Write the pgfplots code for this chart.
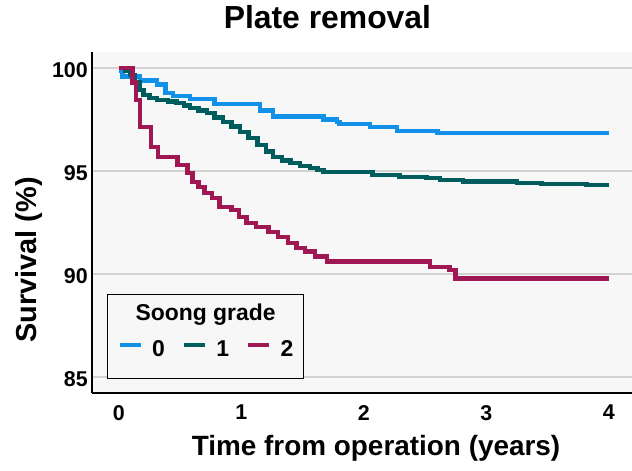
\documentclass[border=0pt]{standalone}
\usepackage{fontspec}
\setmainfont{Liberation Sans}
\usepackage{pgfplots}
\pgfplotsset{compat=1.18}
\definecolor{c0}{HTML}{1192E8}
\definecolor{c1}{HTML}{005D5D}
\definecolor{c2}{HTML}{9F1853}
\definecolor{bg}{HTML}{F7F7F7}
\definecolor{gridc}{HTML}{D2D2D2}
\begin{document}
\begin{tikzpicture}
\begin{axis}[
  name=ax, scale only axis, width=540bp, height=341bp,
  xmin=-0.22, xmax=4.19, ymin=84.22, ymax=100.78,
  axis lines*=left,
  axis line style={-, line width=1.3bp, black},
  axis background/.style={fill=bg},
  xtick={0,1,2,3,4}, ytick={85,90,95,100},
  ymajorgrids, grid style={gridc, line width=1.5bp},
  major tick length=0pt,
  /pgf/number format/assume math mode=true,
  tick label style={font=\fontsize{21.5}{24}\selectfont\bfseries},
  xticklabel style={anchor=north, inner sep=0pt, yshift=-12bp},
  yticklabel style={anchor=east, inner sep=0pt, xshift=-4bp, yshift=-2bp},
  title={Plate removal},
  title style={at={(axis description cs:0.436,1.05)}, anchor=base, inner sep=0pt, font=\fontsize{32}{38}\selectfont\bfseries},
  xlabel={Time from operation (years)},
  xlabel style={at={(axis description cs:0.526,-0.182)}, anchor=base, inner sep=0pt, font=\fontsize{28}{33}\selectfont\bfseries},
  ylabel={Survival (\%)},
  ylabel style={at={(axis description cs:-0.102,0.39)}, anchor=base, inner sep=0pt, font=\fontsize{29}{34}\selectfont\bfseries},
  legend columns=3,
  legend image code/.code={\draw[#1, line width=4.5bp] (0bp,12bp) -- (21bp,12bp);},
  legend style={at={(axis description cs:0.0278,0.290)}, anchor=north west,
    draw=black, line width=1.3bp, fill=bg, inner xsep=10bp, inner ysep=3bp,
    column sep=9bp, /tikz/every even column/.append style={column sep=17bp},
    font=\fontsize{23}{27}\selectfont\bfseries,
    nodes={anchor=base west, inner sep=0pt, text height=59bp, text depth=19bp},
    label={[anchor=north, yshift=-10bp, inner sep=0pt, text height=16.5bp, text depth=5bp, font=\fontsize{23}{27}\selectfont\bfseries]north:Soong grade}},
]
\addplot[const plot, c0, line width=4.5bp] coordinates {
(0,99.85) (0.03,99.6) (0.17,99.4) (0.31,99.2) (0.38,98.8) (0.44,98.65) (0.58,98.5)
(0.78,98.25) (1.15,97.95) (1.26,97.65) (1.67,97.5) (1.78,97.38) (1.80,97.28)
(2.05,97.13) (2.27,96.94) (2.60,96.84) (4.0,96.84)};
\addlegendentry{0}
\addplot[const plot, c1, line width=4.5bp] coordinates {
(0,100) (0.05,99.85) (0.09,99.66) (0.13,99.3) (0.17,98.93) (0.20,98.69) (0.25,98.55)
(0.31,98.45) (0.40,98.38) (0.47,98.3) (0.53,98.18) (0.58,98.06) (0.65,97.95)
(0.72,97.82) (0.78,97.6) (0.85,97.38) (0.92,97.15) (0.99,96.89) (1.06,96.6)
(1.13,96.26) (1.20,95.95) (1.26,95.68) (1.33,95.52) (1.40,95.39) (1.48,95.25)
(1.56,95.15) (1.62,95.05) (1.67,94.95) (2.07,94.8) (2.29,94.7) (2.51,94.66)
(2.62,94.56) (2.81,94.5) (3.25,94.43) (3.45,94.37) (3.82,94.32) (4.0,94.32)};
\addlegendentry{1}
\addplot[const plot, c2, line width=4.5bp] coordinates {
(0,100) (0.11,99.3) (0.14,98.45) (0.17,97.14) (0.26,96.17) (0.32,95.68) (0.48,95.29)
(0.56,94.9) (0.60,94.47) (0.65,94.22) (0.70,93.93) (0.76,93.69) (0.82,93.25)
(0.92,93.1) (0.98,92.77) (1.04,92.48) (1.12,92.28) (1.22,92.04) (1.30,91.8)
(1.38,91.5) (1.45,91.26) (1.52,91.1) (1.60,90.85) (1.70,90.6) (2.54,90.35)
(2.70,90.19) (2.75,89.79) (4.0,89.79)};
\addlegendentry{2}
\end{axis}
\pgfresetboundingbox
\useasboundingbox ([shift={(-92bp,-78bp)}]ax.south west) rectangle ([shift={(0bp,52bp)}]ax.north east);
\end{tikzpicture}
\end{document}
